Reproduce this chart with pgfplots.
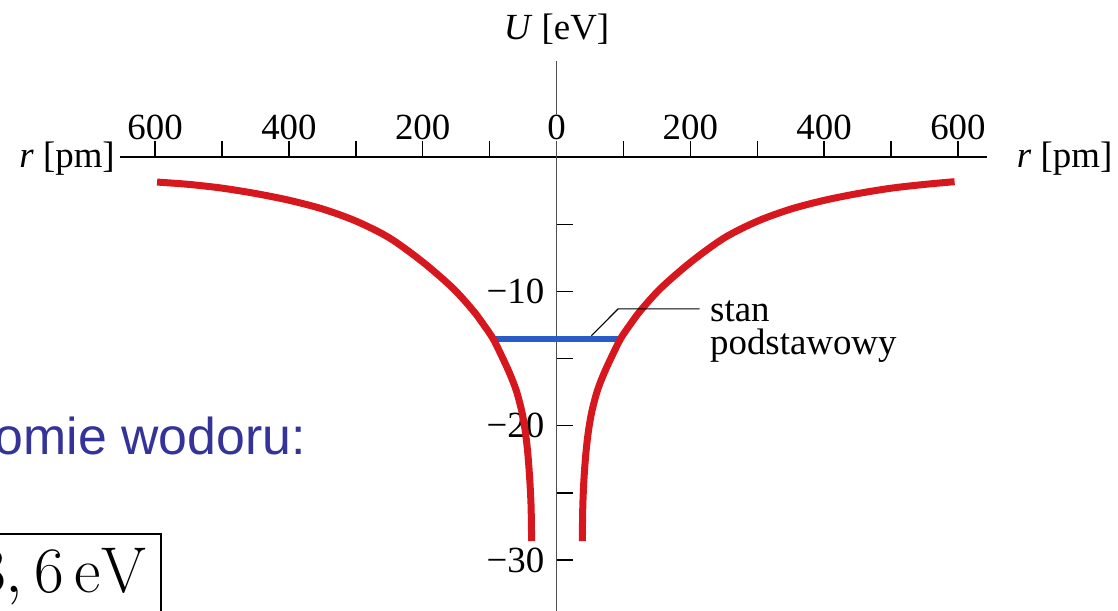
\RequirePackage{fix-cm}
\documentclass[border=0pt]{standalone}
\usepackage{pgfplots}
\pgfplotsset{compat=1.18}
\usepackage[no-math]{fontspec}
\setmainfont{Liberation Serif}
\newfontfamily\slidefont{Liberation Sans}
\definecolor{curvered}{RGB}{214,24,30}
\definecolor{levelblue}{RGB}{42,92,200}
\definecolor{slideblue}{RGB}{51,51,153}
\newcommand\lbl{\fontsize{37}{40}\selectfont}

\begin{document}
\begin{tikzpicture}[x=1bp,y=1bp]
\path[use as bounding box] (0,0) rectangle (1118,611);
\clip (0,0) rectangle (1118,611);

% slide text behind the diagram
\node[anchor=base east, inner sep=0, text=slideblue,
      font=\slidefont\fontsize{52}{60}\selectfont] at (306,156) {atomie wodoru:};
\node[draw, line width=1.6bp, inner sep=14bp, anchor=north east,
      font=\fontsize{65}{72}\selectfont] at (161.7,77.7) {$E_1=-13,6\,\mathrm{eV}$};

\begin{axis}[
  at={(120.31bp,0bp)}, anchor=south west,
  scale only axis, width=866.36bp, height=550.4bp,
  xmin=-652, xmax=643, ymin=-33.8, ymax=7.2,
  axis lines=middle,
  axis line style={-},
  every inner x axis line/.append style={-},
  every inner y axis line/.append style={-},
  x axis line style={-, black, line width=1.8bp},
  y axis line style={-, black!70, line width=1.8bp},
  tick align=inside,
  major tick length=16bp, minor tick length=16bp,
  every tick/.style={line width=1.4bp, black},
  xtick={-600,-400,-200,0,200,400,600},
  xticklabels={600,400,200,0,200,400,600},
  minor xtick={-500,-300,-100,100,300,500},
  ytick={-30,-20,-10},
  yticklabels={−30,−20,−10},
  minor ytick={-25,-15,-5},
  hide obscured x ticks=false,
  hide obscured y ticks=false,
  xticklabel style={anchor=base, yshift=18bp, font=\lbl, fill=white, inner sep=1bp},
  yticklabel style={anchor=east, font=\lbl, inner sep=12bp},
  clip=false,
]
% ground-state level
\addplot[levelblue, line width=6.5bp, no marks] coordinates {(-94,-13.55) (95,-13.55)};

% Coulomb potential, left branch
\addplot[curvered, line width=7bp, no marks, smooth, tension=0.5] coordinates {
  (-597,-1.85) (-550,-2.02) (-500,-2.3) (-450,-2.7) (-400,-3.2) (-350,-3.85)
  (-300,-4.75) (-250,-6.0) (-200,-7.8) (-155,-9.75) (-125,-11.4) (-110,-12.4)
  (-95,-13.5) (-82,-14.8) (-70,-16.1) (-60,-17.4) (-52,-18.9) (-47,-20.3)
  (-43,-22) (-40,-24) (-38,-26) (-37.2,-28.6)
};
% Coulomb potential, right branch
\addplot[curvered, line width=7bp, no marks, smooth, tension=0.5] coordinates {
  (38.5,-28.6) (39.3,-26) (41,-24) (44,-22) (48,-20.3) (53,-18.9) (61,-17.4)
  (71,-16.1) (83,-14.8) (96,-13.5) (111,-12.4) (126,-11.4) (156,-9.75)
  (201,-7.8) (251,-6.0) (301,-4.75) (351,-3.85) (401,-3.2) (451,-2.7)
  (501,-2.3) (551,-2.02) (595,-1.82)
};

% annotation of the level
\draw[black, line width=1.1bp] (axis cs:52,-13.3) -- (axis cs:92,-11.3) -- (axis cs:214,-11.3);
\node[anchor=base west, inner sep=0, font=\lbl] at (axis cs:229.4,-12.23) {stan};
\node[anchor=base west, inner sep=0, font=\lbl] at (axis cs:229.4,-14.70) {podstawowy};

% axis names
\node[anchor=base, inner sep=0, font=\lbl] at (axis cs:0,8.75) {\textit{U} [eV]};
\node[anchor=base east, inner sep=0, font=\lbl] at (axis cs:-660,-0.74) {\textit{r} [pm]};
\node[anchor=base west, inner sep=0, font=\lbl] at (axis cs:688,-0.74) {\textit{r} [pm]};
\end{axis}
\end{tikzpicture}
\end{document}
